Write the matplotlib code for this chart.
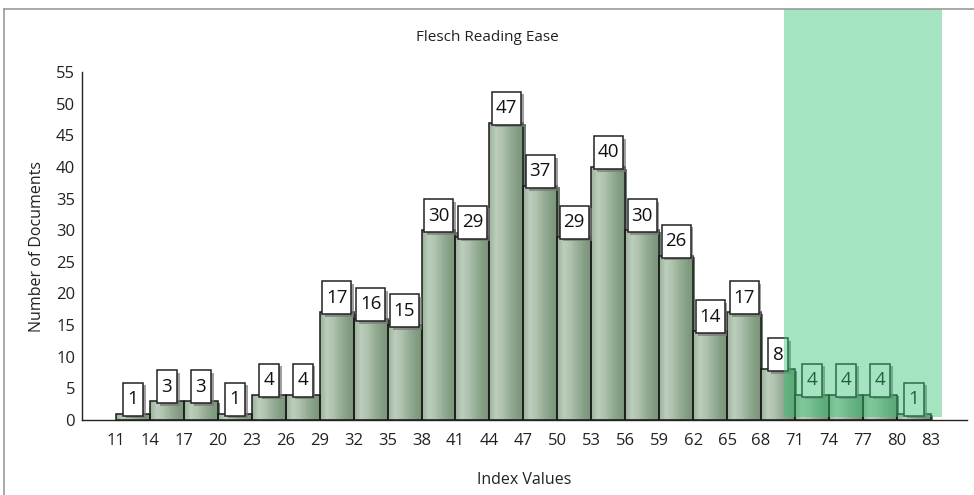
import matplotlib
matplotlib.use("Agg")
import matplotlib.pyplot as plt
import matplotlib.patheffects as pe
import numpy as np
from matplotlib.colors import LinearSegmentedColormap
from matplotlib.patches import Rectangle
from matplotlib.transforms import blended_transform_factory, ScaledTranslation

plt.rcParams['font.family'] = ['Open Sans', 'DejaVu Sans']

# histogram data (bin width 3)
bin_edges = [11, 14, 17, 20, 23, 26, 29, 32, 35, 38, 41, 44, 47, 50, 53, 56,
             59, 62, 65, 68, 71, 74, 77, 80, 83]
counts = [1, 3, 3, 1, 4, 4, 17, 16, 15, 30, 29, 47, 37, 29, 40, 30,
          26, 14, 17, 8, 4, 4, 4, 1]
x_ticks = list(range(11, 84, 3))
y_ticks = list(range(0, 56, 5))
highlight_range = (70, 84)

title = 'Flesch Reading Ease'
x_label = 'Index Values'
y_label = 'Number of Documents'

fig = plt.figure(figsize=(9.74, 4.95), dpi=100)
ax = fig.add_axes([0.0842, 0.1515, 0.9086, 0.703])

bar_cmap = LinearSegmentedColormap.from_list(
    'bar', ['#9bb29b', '#bccebc', '#aec2ae', '#98af98', '#86a086', '#7a957a'])
grad = np.linspace(0, 1, 64).reshape(1, -1)

for left, right, c in zip(bin_edges[:-1], bin_edges[1:], counts):
    # shadow
    ax.add_patch(Rectangle((left + 0.2, 0), right - left, c - 0.25,
                           facecolor='#6f7f6f', edgecolor='none', zorder=1))
    im = ax.imshow(grad, cmap=bar_cmap, aspect='auto',
                   extent=(left, right, 0, c), zorder=2)
    outline = Rectangle((left, 0), right - left, c, facecolor='none',
                        edgecolor='#1a1a1a', linewidth=1.1, zorder=3)
    ax.add_patch(outline)
    im.set_clip_path(outline)

# value boxes, sized in inches and anchored at the bar tops
centers = [(a + b) / 2 for a, b in zip(bin_edges[:-1], bin_edges[1:])]
box_h = 0.33
for xc, c in zip(centers, counts):
    label = str(c)
    box_w = 0.20 if len(label) == 1 else 0.29
    anchor = fig.dpi_scale_trans + ScaledTranslation(xc, c, ax.transData)
    box = Rectangle((-box_w / 2, -0.02), box_w, box_h, transform=anchor,
                    facecolor='white', edgecolor='#222222', linewidth=1.1,
                    zorder=5, clip_on=False)
    box.set_path_effects(
        [pe.SimplePatchShadow(offset=(2, -2), shadow_rgbFace='#777777', alpha=0.7),
         pe.Normal()])
    ax.add_patch(box)
    ax.text(0, -0.02 + box_h / 2, label, transform=anchor, ha='center',
            va='center', fontsize=13.5, color='#111111', zorder=6)

ax.set_xlim(8, 86.2)
ax.set_ylim(0, 55)
ax.set_xticks(x_ticks)
ax.set_yticks(y_ticks)
ax.tick_params(length=0, labelsize=12, colors='#222222')
ax.tick_params(axis='y', pad=5)
ax.tick_params(axis='x', pad=9)
for side in ['top', 'right']:
    ax.spines[side].set_visible(False)
for side in ['left', 'bottom']:
    ax.spines[side].set_color('#222222')
    ax.spines[side].set_linewidth(1.0)

ax.set_xlabel(x_label, fontsize=11.5, color='#222222', labelpad=17)
ax.set_ylabel(y_label, fontsize=11.5, color='#222222', labelpad=8)
fig.text(0.5, 0.925, title, ha='center', va='center', fontsize=11,
         color='#222222')

# highlighted range overlay (spans up to the frame)
trans = blended_transform_factory(ax.transData, fig.transFigure)
ax.add_patch(Rectangle((highlight_range[0], 1 - 417 / 495),
                       highlight_range[1] - highlight_range[0],
                       (417 - 9) / 495, transform=trans,
                       facecolor='#39c477', alpha=0.45, edgecolor='none',
                       zorder=10, clip_on=False))

# outer frame
fig.add_artist(plt.Line2D([4 / 974, 4 / 974], [0, 1 - 9 / 495],
                          transform=fig.transFigure, color='#9a9a9a', lw=1.2))
fig.add_artist(plt.Line2D([4 / 974, 1], [1 - 9 / 495, 1 - 9 / 495],
                          transform=fig.transFigure, color='#9a9a9a', lw=1.2))

fig.savefig('out.png', dpi=100)
